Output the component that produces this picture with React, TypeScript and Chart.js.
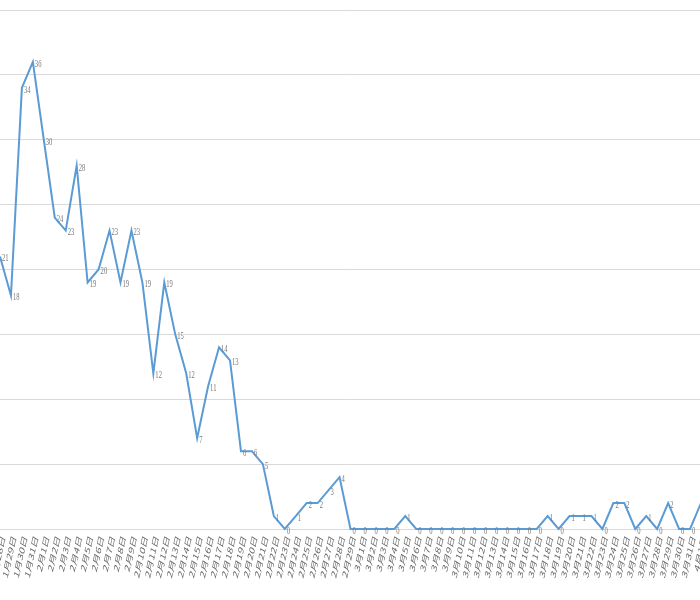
import React, { useEffect, useRef } from "react";
import { Chart, registerables } from "chart.js";

Chart.register(...registerables);

const dateLabels: string[] = [
  "1月28日", "1月29日", "1月30日", "1月31日", "2月1日", "2月2日", "2月3日", "2月4日",
  "2月5日", "2月6日", "2月7日", "2月8日", "2月9日", "2月10日", "2月11日", "2月12日",
  "2月13日", "2月14日", "2月15日", "2月16日", "2月17日", "2月18日", "2月19日", "2月20日",
  "2月21日", "2月22日", "2月23日", "2月24日", "2月25日", "2月26日", "2月27日", "2月28日",
  "2月29日", "3月1日", "3月2日", "3月3日", "3月4日", "3月5日", "3月6日", "3月7日",
  "3月8日", "3月9日", "3月10日", "3月11日", "3月12日", "3月13日", "3月14日", "3月15日",
  "3月16日", "3月17日", "3月18日", "3月19日", "3月20日", "3月21日", "3月22日", "3月23日",
  "3月24日", "3月25日", "3月26日", "3月27日", "3月28日", "3月29日", "3月30日", "3月31日",
  "4月1日",
];

const dailyCases: number[] = [
  21, 18, 34, 36, 30, 24, 23, 28, 19, 20, 23, 19, 23, 19, 12, 19,
  15, 12, 7, 11, 14, 13, 6, 6, 5, 1, 0, 1, 2, 2, 3, 4,
  0, 0, 0, 0, 0, 1, 0, 0, 0, 0, 0, 0, 0, 0, 0, 0,
  0, 0, 1, 0, 1, 1, 1, 0, 2, 2, 0, 1, 0, 2, 0, 0,
  2,
];

const yMin = 0;
const yMax = 40;
const yStep = 5;

const labelsPlugin = {
  id: "customLabels",
  afterDatasetsDraw(chart: any) {
    const ctx = chart.ctx;
    const meta = chart.getDatasetMeta(0);
    const xScale = chart.scales.x;
    ctx.save();
    // data labels
    ctx.fillStyle = "#7a7a7a";
    ctx.font = '11px "Liberation Serif"';
    ctx.textAlign = "left";
    ctx.textBaseline = "middle";
    meta.data.forEach((pt: any, i: number) => {
      ctx.save();
      ctx.translate(pt.x + 2, pt.y + 2);
      ctx.scale(0.6, 1);
      ctx.fillText(String(dailyCases[i]), 0, 0);
      ctx.restore();
    });
    // x tick labels
    ctx.fillStyle = "#666666";
    ctx.font = '12px "Noto Sans CJK SC"';
    ctx.textAlign = "right";
    ctx.textBaseline = "middle";
    const ang = (70 * Math.PI) / 180;
    dateLabels.forEach((lab, i) => {
      const x = xScale.getPixelForTick(i);
      ctx.save();
      ctx.translate(x + 3, chart.chartArea.bottom + 7);
      ctx.scale(0.6, 1);
      ctx.rotate(-ang);
      ctx.fillText(lab, 0, 0);
      ctx.restore();
    });
    ctx.restore();
  },
};

export default function App() {
  const ref = useRef<HTMLCanvasElement | null>(null);
  useEffect(() => {
    if (!ref.current) return;
    const chart = new Chart(ref.current, {
      type: "line",
      data: {
        labels: dateLabels,
        datasets: [
          {
            data: dailyCases,
            borderColor: "#5b9bd5",
            backgroundColor: "#5b9bd5",
            borderWidth: 2,
            pointRadius: 0,
            tension: 0,
            clip: false as any,
          },
        ],
      },
      options: {
        responsive: false,
        animation: false,
        layout: { padding: { top: 10, left: 0, right: 0, bottom: 0 } },
        plugins: { legend: { display: false }, tooltip: { enabled: false }, title: { display: false } },
        scales: {
          x: {
            offset: false,
            grid: { display: false, drawTicks: false },
            border: { display: false },
            ticks: { display: false },
            afterFit(scale: any) {
              scale.height = 71;
              scale.paddingLeft = 0;
              scale.paddingRight = 0;
            },
          },
          y: {
            min: yMin,
            max: yMax,
            ticks: { display: false, stepSize: yStep },
            grid: { color: "#d9d9d9", lineWidth: 1, drawTicks: false },
            border: { display: false },
            afterFit(scale: any) {
              scale.width = 0;
            },
          },
        },
      },
      plugins: [labelsPlugin],
    });
    return () => chart.destroy();
  }, []);
  return (
    <div style={{ position: "fixed", left: 0, top: 0, width: 700, height: 600, overflow: "hidden", background: "#fff" }}>
      <canvas ref={ref} width={701} height={600} style={{ display: "block" }} />
    </div>
  );
}
